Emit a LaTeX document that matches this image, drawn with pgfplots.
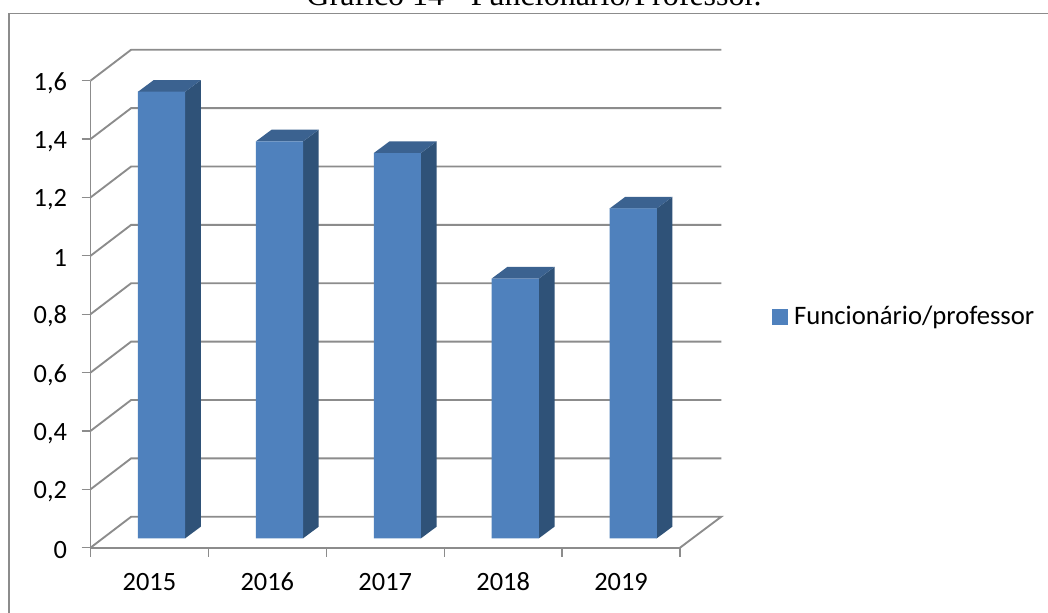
\documentclass[border=0pt]{standalone}
\usepackage{pgfplots}
\usepackage{pgfplotstable}
\usepackage{fontspec}
\setmainfont{Carlito}
\newfontfamily\titlefont{Liberation Serif}
\pgfplotsset{compat=1.18}
\definecolor{front}{HTML}{4F81BD}
\definecolor{side}{HTML}{2F5278}
\definecolor{topf}{HTML}{3B6290}
\definecolor{gridc}{HTML}{8C8C8C}
\pgfplotstableread{
x v
0.5 1.53
1.5 1.36
2.5 1.32
3.5 0.89
4.5 1.13
}\datatable
\begin{document}
\begin{tikzpicture}
\clip (0,0) rectangle (786pt,459pt);
\fill[white] (0,0) rectangle (786pt,459pt);
\draw[gridc,line width=0.9pt] (6.75pt,-2pt) -- (6.75pt,448.9pt) -- (790pt,448.9pt);
\node[anchor=base,font=\titlefont\fontsize{24pt}{28pt}\selectfont,inner sep=0pt] at (400.5pt,455pt) {Gráfico 14 - Funcionário/Professor.};
\begin{axis}[
  at={(67.875pt,48.225pt)},anchor=origin,
  scale only axis,width=442.125pt,height=350.25pt,
  xmin=0,xmax=5,ymin=0,ymax=1.6,clip=false,
  axis lines=left,axis line style={-,gridc,line width=1.4pt},
  tick style={gridc,line width=1pt},tick align=outside,
  major tick length=6.6pt,
  xtick={0,1,2,3,4,5},x tick label as interval=true,
  xticklabels={2015,2016,2017,2018,2019},
  ytick={0,0.2,0.4,0.6,0.8,1,1.2,1.4,1.6},
  yticklabels={0,{0,2},{0,4},{0,6},{0,8},1,{1,2},{1,4},{1,6}},
  tick label style={font=\fontsize{19.8pt}{24pt}\selectfont,black},
  xticklabel style={text height=13pt,text depth=0pt,yshift=-9pt},
  yticklabel style={xshift=-7.5pt,yshift=-1.8pt},
  legend style={at={(1.156,0.495)},anchor=west,draw=none,fill=none,inner sep=0pt,outer sep=0pt,
    font=\fontsize{20pt}{24pt}\selectfont,
    nodes={inner sep=0pt,outer sep=0pt}},
  legend cell align=left,
  legend image code/.code={\fill[front] (0pt,-5.6pt) rectangle (11.25pt,5.6pt);},
]
% walls
\addplot[forget plot,gridc,line width=1.4pt] coordinates {(0,0) (0.345,0.1062) (5.35,0.1062) (5,0)};
\addplot[forget plot,gridc,line width=1.4pt] coordinates {(0,0.2) (0.345,0.3062) (5.35,0.3062)};
\addplot[forget plot,gridc,line width=1.4pt] coordinates {(0,0.4) (0.345,0.5062) (5.35,0.5062)};
\addplot[forget plot,gridc,line width=1.4pt] coordinates {(0,0.6) (0.345,0.7062) (5.35,0.7062)};
\addplot[forget plot,gridc,line width=1.4pt] coordinates {(0,0.8) (0.345,0.9062) (5.35,0.9062)};
\addplot[forget plot,gridc,line width=1.4pt] coordinates {(0,1) (0.345,1.1062) (5.35,1.1062)};
\addplot[forget plot,gridc,line width=1.4pt] coordinates {(0,1.2) (0.345,1.3062) (5.35,1.3062)};
\addplot[forget plot,gridc,line width=1.4pt] coordinates {(0,1.4) (0.345,1.5062) (5.35,1.5062)};
\addplot[forget plot,gridc,line width=1.4pt] coordinates {(0,1.6) (0.345,1.7062) (5.35,1.7062)};
% side faces
\addplot[forget plot,fill=side,draw=none] coordinates {(0.8025,0.032) (0.9355,0.072) (0.9355,1.602) (0.8025,1.562)};
\addplot[forget plot,fill=side,draw=none] coordinates {(1.8025,0.032) (1.9355,0.072) (1.9355,1.432) (1.8025,1.392)};
\addplot[forget plot,fill=side,draw=none] coordinates {(2.8025,0.032) (2.9355,0.072) (2.9355,1.392) (2.8025,1.352)};
\addplot[forget plot,fill=side,draw=none] coordinates {(3.8025,0.032) (3.9355,0.072) (3.9355,0.962) (3.8025,0.922)};
\addplot[forget plot,fill=side,draw=none] coordinates {(4.8025,0.032) (4.9355,0.072) (4.9355,1.202) (4.8025,1.162)};
% top faces
\addplot[forget plot,fill=topf,draw=none] coordinates {(0.4025,1.562) (0.5355,1.602) (0.9355,1.602) (0.8025,1.562)};
\addplot[forget plot,fill=topf,draw=none] coordinates {(1.4025,1.392) (1.5355,1.432) (1.9355,1.432) (1.8025,1.392)};
\addplot[forget plot,fill=topf,draw=none] coordinates {(2.4025,1.352) (2.5355,1.392) (2.9355,1.392) (2.8025,1.352)};
\addplot[forget plot,fill=topf,draw=none] coordinates {(3.4025,0.922) (3.5355,0.962) (3.9355,0.962) (3.8025,0.922)};
\addplot[forget plot,fill=topf,draw=none] coordinates {(4.4025,1.162) (4.5355,1.202) (4.9355,1.202) (4.8025,1.162)};
% front faces: the values
\addplot[forget plot,ybar,bar width=35.4pt,bar shift=0pt,fill=front,draw=none,xshift=9.075pt,yshift=7.05pt] table[x=x,y=v] {\datatable};
\addlegendimage{front}
\addlegendentry{\hspace{5pt}Funcionário/professor}
\end{axis}
\end{tikzpicture}
\end{document}
